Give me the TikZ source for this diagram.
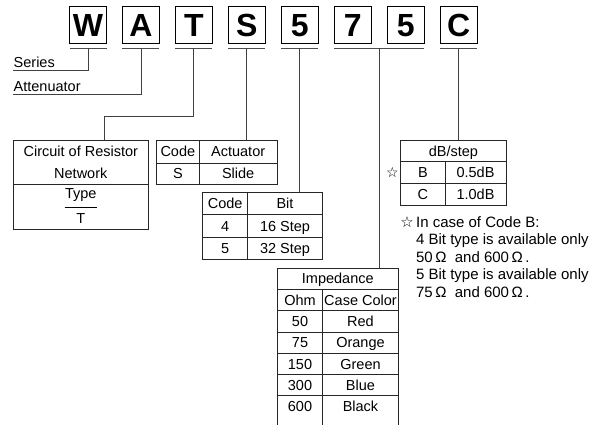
\documentclass[tikz,border=0pt]{standalone}
\usepackage{fontspec}
\usetikzlibrary{calc}
\setmainfont{Liberation Sans}
\newfontfamily\starfont{DejaVu Sans}
\newcommand\tblfont{\fontsize{14.5}{22}\selectfont}
\newcommand\ntfont{\fontsize{15}{17}\selectfont}
\begin{document}
\begin{tikzpicture}[x=1pt, y=-1pt, line width=0.8pt,
  letter/.style={draw, line width=1pt, minimum size=37pt, inner sep=0, outer sep=0, font=\fontsize{32}{32}\selectfont\bfseries},
  uline/.style={draw=black!70, line width=1pt},
  wire/.style={draw=black!75, line width=0.9pt},
  box/.style={draw=black!85, anchor=north west, inner sep=0, outer sep=0, font=\tblfont},
  cell/.style={box, text height=10.4pt, text depth=0pt},
  opencell/.style={cell, draw=none},
  lbl/.style={anchor=south west, inner xsep=0, inner ysep=2.4pt, font=\tblfont},
  note/.style={anchor=base west, inner sep=0, font=\ntfont}]
\useasboundingbox (0,0) rectangle (602,425);
% code letters
\node[letter] (L_W) at (88,25.5) {W};
\node[letter] (L_A) at (140.95,25.5) {A};
\node[letter] (L_T) at (193.9,25.5) {T};
\node[letter] (L_S) at (246.85,25.5) {S};
\node[letter] (L_5a) at (299.8,25.5) {5};
\node[letter] (L_7) at (352.75,25.5) {7};
\node[letter] (L_5b) at (405.7,25.5) {5};
\node[letter] (L_C) at (458.65,25.5) {C};
% underlines
\draw[uline] ([yshift=-4.5pt]L_W.south west) -- ([yshift=-4.5pt]L_W.south east);
\draw[uline] ([yshift=-4.5pt]L_A.south west) -- ([yshift=-4.5pt]L_A.south east);
\draw[uline] ([yshift=-4.5pt]L_T.south west) -- ([yshift=-4.5pt]L_T.south east);
\draw[uline] ([yshift=-4.5pt]L_S.south west) -- ([yshift=-4.5pt]L_S.south east);
\draw[uline] ([yshift=-4.5pt]L_5a.south west) -- ([yshift=-4.5pt]L_5a.south east);
\draw[uline] ([yshift=-4.5pt]L_7.south west) -- ([yshift=-4.5pt]L_5b.south east);
\draw[uline] ([yshift=-4.5pt]L_C.south west) -- ([yshift=-4.5pt]L_C.south east);
\coordinate (uW) at ([yshift=-4.5pt]L_W.south);
\coordinate (uA) at ([yshift=-4.5pt]L_A.south);
\coordinate (uT) at ([yshift=-4.5pt]L_T.south);
\coordinate (uS) at ([yshift=-4.5pt]L_S.south);
\coordinate (u5) at ([yshift=-4.5pt]L_5a.south);
\coordinate (u75) at ($([yshift=-4.5pt]L_7.south)!0.5!([yshift=-4.5pt]L_5b.south)$);
\coordinate (uC) at ([yshift=-4.5pt]L_C.south);
% series, attenuator
\node[lbl] (series) at (13.3,70.7) {Series};
\node[lbl] (atten) at (13.3,94.3) {Attenuator};
% circuit of resistor network
\node[box, minimum width=135, minimum height=44.3, align=center] (circ_top) at (13.3,140) {Circuit of Resistor\\Network};
\node[box, minimum width=135, minimum height=45] (circ_bot) at (13.3,184.3) {};
\node[font=\tblfont, inner sep=0] (type) at (80.8,195) {Type};
\node[font=\tblfont, inner sep=0] (tval) at (80.8,218.3) {T};
\draw ([yshift=-12.3pt]type.center -| type.west) -- ([yshift=-12.3pt]type.center -| type.east);
% actuator
\node[cell, minimum width=42.3, minimum height=23] (act_0_0) at (156.7,140) {Code};
\node[cell, minimum width=78.3, minimum height=23] (act_0_1) at (199,140) {Actuator};
\node[cell, minimum width=42.3, minimum height=21] (act_1_0) at (156.7,163) {S};
\node[cell, minimum width=78.3, minimum height=21] (act_1_1) at (199,163) {Slide};
% bit
\node[cell, minimum width=45, minimum height=22.6] (bit_0_0) at (202.7,192) {Code};
\node[cell, minimum width=74.6, minimum height=22.6] (bit_0_1) at (247.7,192) {Bit};
\node[cell, minimum width=45, minimum height=22.6] (bit_1_0) at (202.7,214.6) {4};
\node[cell, minimum width=74.6, minimum height=22.6] (bit_1_1) at (247.7,214.6) {16 Step};
\node[cell, minimum width=45, minimum height=22.6] (bit_2_0) at (202.7,237.2) {5};
\node[cell, minimum width=74.6, minimum height=22.6] (bit_2_1) at (247.7,237.2) {32 Step};
% impedance
\node[cell, minimum width=121, minimum height=21.3] (imp_0) at (277.3,268) {Impedance};
\node[cell, minimum width=45.4, minimum height=21.3] (imp_1_0) at (277.3,289.3) {Ohm};
\node[cell, minimum width=75.6, minimum height=21.3] (imp_1_1) at (322.7,289.3) {Case Color};
\node[cell, minimum width=45.4, minimum height=21.3] (imp_2_0) at (277.3,310.6) {50};
\node[cell, minimum width=75.6, minimum height=21.3] (imp_2_1) at (322.7,310.6) {Red};
\node[cell, minimum width=45.4, minimum height=21.3] (imp_3_0) at (277.3,331.9) {75};
\node[cell, minimum width=75.6, minimum height=21.3] (imp_3_1) at (322.7,331.9) {Orange};
\node[cell, minimum width=45.4, minimum height=21.3] (imp_4_0) at (277.3,353.2) {150};
\node[cell, minimum width=75.6, minimum height=21.3] (imp_4_1) at (322.7,353.2) {Green};
\node[cell, minimum width=45.4, minimum height=21.3] (imp_5_0) at (277.3,374.5) {300};
\node[cell, minimum width=75.6, minimum height=21.3] (imp_5_1) at (322.7,374.5) {Blue};
\node[opencell, minimum width=45.4, minimum height=21.3] (imp_6_0) at (277.3,395.8) {600};
\node[opencell, minimum width=75.6, minimum height=21.3] (imp_6_1) at (322.7,395.8) {Black};
\draw[draw=black!85] (imp_6_0.north west) -- ++(0,30);
\draw[draw=black!85] (imp_6_1.north west) -- ++(0,30);
\draw[draw=black!85] (imp_6_1.north east) -- ++(0,30);
% dB/step
\node[cell, minimum width=105.3, minimum height=21.7] (db_0) at (400.7,140) {dB/step};
\node[cell, minimum width=44.3, minimum height=21.6] (db_1_0) at (400.7,161.7) {B};
\node[cell, minimum width=61, minimum height=21.6] (db_1_1) at (445,161.7) {0.5dB};
\node[cell, minimum width=44.3, minimum height=22.4] (db_2_0) at (400.7,183.3) {C};
\node[cell, minimum width=61, minimum height=22.4] (db_2_1) at (445,183.3) {1.0dB};
\node[font=\starfont\fontsize{14}{14}\selectfont, inner sep=0] (star) at (392.5,172) {☆};
% note
\node[note] (note_s) at (400,227.4) {\starfont\fontsize{15}{15}\selectfont ☆};
\node[note] (note_0) at (415.7,227.4) {In case of Code B:};
\node[note] (note_1) at (415.7,244.8) {4 Bit type is available only};
\node[note] (note_2) at (415.7,262.2) {50\,Ω\ \ and 600\,Ω\,.};
\node[note] (note_3) at (415.7,279.6) {5 Bit type is available only};
\node[note] (note_4) at (415.7,297) {75\,Ω\ \ and 600\,Ω\,.};
% connectors
\draw[wire] (uW) |- (series.south west);
\draw[wire] (uA) |- (atten.south west);
\coordinate (kT) at (104,116);
\draw[wire] (uT) |- (kT) -- (kT |- circ_top.north);
\draw[wire] (uS) -- (uS |- act_0_1.north);
\draw[wire] (u5) -- (u5 |- bit_0_1.north);
\draw[wire] (u75) -- (u75 |- imp_0.north);
\draw[wire] (uC) -- (uC |- db_0.north);
\end{tikzpicture}
\end{document}
